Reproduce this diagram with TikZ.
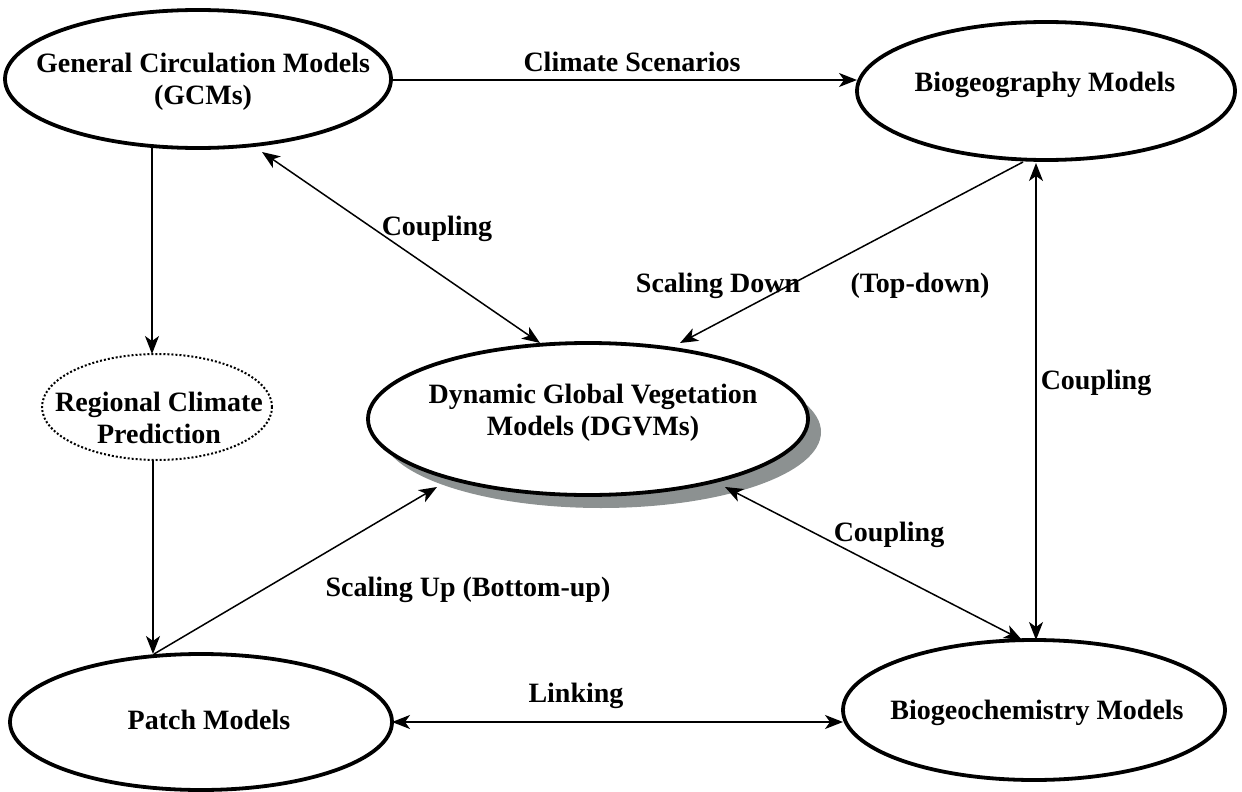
\documentclass[tikz,border=0pt]{standalone}
\usepackage{fontspec}
\setmainfont{Liberation Serif}
\usetikzlibrary{arrows.meta,shapes.geometric}
\begin{document}
\begin{tikzpicture}[x=0.5pt,y=-0.5pt,
  font=\fontsize{14}{16}\selectfont\bfseries,
  model/.style={ellipse,draw,line width=1.9pt,inner sep=0pt},
  dotmodel/.style={ellipse,draw,line width=1pt,dash pattern=on 1pt off 1pt,inner sep=0pt},
  txt/.style={align=center,inner sep=0pt},
  conn/.style={line width=0.75pt,-{Stealth[length=9pt,width=7pt,inset=2.5pt]}},
  biconn/.style={line width=0.75pt,{Stealth[length=9pt,width=7pt,inset=2.5pt]}-{Stealth[length=9pt,width=7pt,inset=2.5pt]}},
  lbl/.style={inner sep=1pt}]
\useasboundingbox (0,0) rectangle (1242,792);
% shadow
\fill[fill={rgb,255:red,140;green,145;blue,145}] (601,432) ellipse [x radius=220, y radius=76];
\node[model,fill=white,minimum width=193pt,minimum height=69pt] (gcm) at (198,79) {};
\node[txt] (gcmt) at (203,82) {General Circulation Models\\(GCMs)};
\node[model,fill=white,minimum width=189pt,minimum height=69pt] (bgm) at (1046,91) {};
\node[txt] (bgmt) at (1045,85) {Biogeography Models};
\node[model,fill=white,minimum width=220pt,minimum height=76pt] (dgvm) at (588,419) {};
\node[txt] (dgvmt) at (593,413) {Dynamic Global Vegetation\\Models (DGVMs)};
\node[dotmodel,minimum width=115pt,minimum height=53pt] (rcp) at (157,407) {};
\node[txt] (rcpt) at (159,418) {Regional Climate\\Prediction};
\node[model,minimum width=191pt,minimum height=68pt] (patch) at (201,722) {};
\node[txt] (patcht) at (209,720) {Patch Models};
\node[model,minimum width=191pt,minimum height=70pt] (bgc) at (1034,710) {};
\node[txt] (bgct) at (1037,713) {Biogeochemistry Models};
% connectors
\coordinate (ge) at (392,80);
\coordinate (bw) at (857,80);
\draw[conn] (ge) -- (bw);
\node[lbl] (lcs) at (632,62) {Climate Scenarios};
\coordinate (g1) at (152,148);
\coordinate (r1) at (152,354);
\draw[conn] (g1) -- (r1);
\coordinate (r2) at (153,460);
\coordinate (p1) at (153,654);
\draw[conn] (r2) -- (p1);
\coordinate (g2) at (262,152);
\coordinate (d1) at (540,343);
\draw[biconn] (g2) -- (d1);
\node[lbl] (lc1) at (437,229) {Coupling};
\coordinate (b1) at (1023,162);
\coordinate (d2) at (680,343);
\draw[conn] (b1) -- (d2);
\node[lbl] (lsd) at (718,286) {Scaling Down};
\node[lbl] (ltd) at (920,286) {(Top-down)};
\coordinate (b2) at (1036,163);
\coordinate (c1) at (1036,640);
\draw[biconn] (b2) -- (c1);
\node[lbl] (lc2) at (1096,383) {Coupling};
\coordinate (p2) at (154,654);
\coordinate (d3) at (437,487);
\draw[conn] (p2) -- (d3);
\node[lbl] (lsu) at (468,590) {Scaling Up (Bottom-up)};
\coordinate (d4) at (725,487);
\coordinate (c2) at (1022,640);
\draw[biconn] (d4) -- (c2);
\node[lbl] (lc3) at (889,535) {Coupling};
\coordinate (pe) at (392,722);
\coordinate (cw) at (843,722);
\draw[biconn] (pe) -- (cw);
\node[lbl] (llk) at (576,696) {Linking};
\end{tikzpicture}
\end{document}
